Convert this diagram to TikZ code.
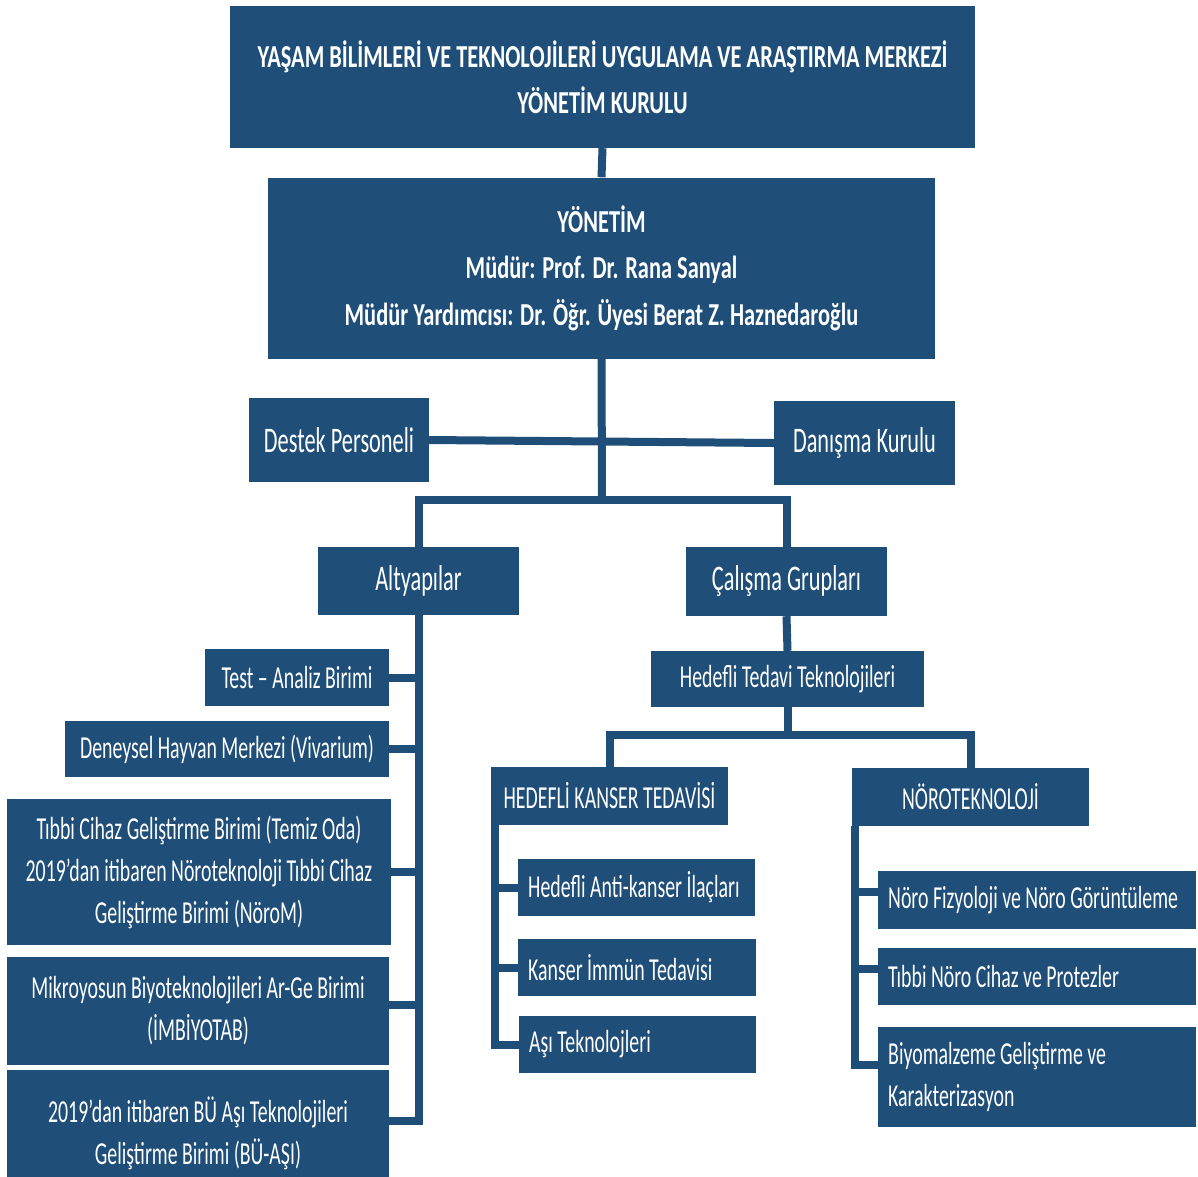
\documentclass[tikz,border=0pt]{standalone}
\usepackage{fontspec}
\usepackage{xcolor}
\usepackage{tikz}
\setmainfont{Carlito}
\newfontfamily\semafont[FakeStretch=0.62]{Carlito}
\newfontfamily\kalinfont[FakeStretch=0.70]{Carlito}
\definecolor{koyumavi}{HTML}{1F4E79}
\newcommand\govde{\semafont\fontsize{32}{42}\selectfont}
\newcommand\iri{\semafont\fontsize{36}{42}\selectfont}
\newcommand\kalin{\kalinfont\bfseries\fontsize{32}{46.5}\selectfont}

\tikzset{
  kutu/.style={fill=koyumavi,text=white,inner sep=0pt,align=center,font=\govde},
  irikutu/.style={kutu,font=\iri},
  baslikkutu/.style={kutu,font=\kalin},
  solkutu/.style={kutu,anchor=west,align=flush left,inner xsep=10pt},
  hat/.style={draw=koyumavi,line width=8pt},
}

\begin{document}
\begin{tikzpicture}[x=1pt,y=-1pt]
            \useasboundingbox (0,0) rectangle (1198,1176);

            %%% YONETIM %%%
            \node[baslikkutu,minimum width=745pt,minimum height=142pt] (kurul) at (602.5,77)
                {YAŞAM BİLİMLERİ VE TEKNOLOJİLERİ UYGULAMA VE ARAŞTIRMA MERKEZİ\\YÖNETİM KURULU};
            \node[baslikkutu,minimum width=667pt,minimum height=181pt] (yonetim) at (601.5,268)
                {YÖNETİM\\Müdür: Prof. Dr. Rana Sanyal\\Müdür Yardımcısı: Dr. Öğr. Üyesi Berat Z. Haznedaroğlu};
            \node[irikutu,minimum width=180pt,minimum height=84pt] (destek) at (339,440) {Destek Personeli};
            \node[irikutu,minimum width=181pt,minimum height=84pt] (danisma) at (864.5,443) {Danışma Kurulu};
            \coordinate (dugum) at (602,500);

            %%% ALTYAPILAR %%%
            \node[irikutu,minimum width=201pt,minimum height=68pt] (altyapi) at (418.5,581) {Altyapılar};
            \node[kutu,minimum width=184pt,minimum height=57pt] (test) at (297,677.5) {Test – Analiz Birimi};
            \node[kutu,minimum width=324pt,minimum height=56pt] (vivarium) at (227,749) {Deneysel Hayvan Merkezi (Vivarium)};
            \node[kutu,minimum width=384pt,minimum height=146pt] (temizoda) at (199,872)
                {Tıbbi Cihaz Geliştirme Birimi (Temiz Oda)\\2019’dan itibaren Nöroteknoloji Tıbbi Cihaz\\Geliştirme Birimi (NöroM)};
            \node[kutu,minimum width=382pt,minimum height=108pt] (mikro) at (198,1011)
                {Mikroyosun Biyoteknolojileri Ar-Ge Birimi\\(İMBİYOTAB)};
            \node[kutu,minimum width=382pt,minimum height=126pt] (buasi) at (198,1133)
                {2019’dan itibaren BÜ Aşı Teknolojileri\\Geliştirme Birimi (BÜ-AŞI)};

            %%% CALISMA GRUPLARI %%%
            \node[irikutu,minimum width=201pt,minimum height=69pt] (calisma) at (786.5,581.5) {Çalışma Grupları};
            \node[kutu,minimum width=273pt,minimum height=56pt] (hedefli) at (787.5,679) {Hedefli Tedavi Teknolojileri};
            \coordinate (hdugum) at (787.5,735);
            \node[kutu,minimum width=237pt,minimum height=58pt] (kanser) at (609.5,796) {HEDEFLİ KANSER TEDAVİSİ};
            \node[kutu,minimum width=237pt,minimum height=58pt] (noro) at (970.5,797) {NÖROTEKNOLOJİ};

            \node[solkutu,text width=217pt,minimum height=57pt] (ilac) at (518,887.5) {Hedefli Anti-kanser İlaçları};
            \node[solkutu,text width=218pt,minimum height=57pt] (immun) at (518,967.5) {Kanser İmmün Tedavisi};
            \node[solkutu,text width=217pt,minimum height=57pt] (asi) at (519,1044.5) {Aşı Teknolojleri};

            \node[solkutu,text width=298pt,minimum height=58pt] (fizyoloji) at (878,900) {Nöro Fizyoloji ve Nöro Görüntüleme};
            \node[solkutu,text width=298pt,minimum height=57pt] (protez) at (878,976.5) {Tıbbi Nöro Cihaz ve Protezler};
            \node[solkutu,text width=298pt,minimum height=100pt] (biyomalzeme) at (878,1077)
                {Biyomalzeme Geliştirme ve\\Karakterizasyon};

            %%% BAGLANTILAR %%%
            \draw[hat] (kurul.south) -- (yonetim.north);
            \draw[hat] (yonetim.south) -- (dugum);
            \draw[hat] (destek.east) -- (danisma.west);
            \draw[hat] (altyapi.north) |- (dugum) -| (calisma.north);

            \draw[hat] (altyapi.south) |- ([yshift=12pt]buasi.east);
            \foreach \b in {test,vivarium,temizoda}
                \draw[hat] (\b.east) -- (\b.east -| altyapi.south);
            \draw[hat] ([yshift=6pt]mikro.east) -- ([yshift=6pt]mikro.east -| altyapi.south);

            \draw[hat] (calisma.south) -- (hedefli.north);
            \draw[hat] (hedefli.south) -- (hdugum);
            \draw[hat] (kanser.north) |- (hdugum) -| (noro.north);

            \coordinate (kgovde) at ([xshift=4pt]kanser.south west);
            \draw[hat] (kgovde) |- (asi.west);
            \foreach \b in {ilac,immun}
                \draw[hat] (\b.west) -- (\b.west -| kgovde);

            \coordinate (ngovde) at ([xshift=3pt]noro.south west);
            \draw[hat] (ngovde) |- ([yshift=12pt]biyomalzeme.west);
            \foreach \b in {fizyoloji,protez}
                \draw[hat] ([yshift=8pt]\b.west) -- ([yshift=8pt]\b.west -| ngovde);
\end{tikzpicture}
\end{document}
